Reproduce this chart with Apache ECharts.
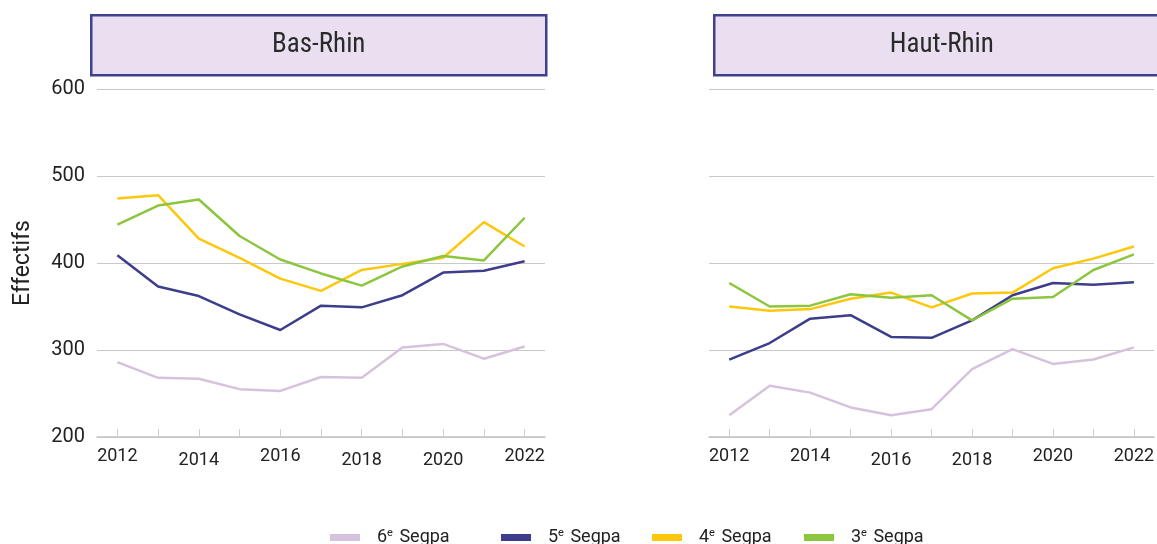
<!DOCTYPE html>
<html>
<head>
<meta charset="utf-8">
<script src="https://cdn.jsdelivr.net/npm/echarts@6/dist/echarts.min.js"></script>
<style>html,body{margin:0;padding:0;background:#fff}#c{width:1157px;height:544px}</style>
</head>
<body>
<div id="c"></div>
<script>
const years = ['2012','2013','2014','2015','2016','2017','2018','2019','2020','2021','2022'];
const seriesNames = ['6e Segpa','5e Segpa','4e Segpa','3e Segpa'];
const panelTitles = ['Bas-Rhin','Haut-Rhin'];
const yTicks = [200, 300, 400, 500, 600];

const basRhin6 = [286,268,267,255,253,269,268,303,307,290,304];
const basRhin5 = [409,373,362,341,323,351,349,363,389,391,402];
const basRhin4 = [474,478,428,406,382,368,392,399,406,447,419];
const basRhin3 = [444,466,473,431,404,388,374,396,408,403,452];

const hautRhin6 = [225,259,251,234,225,232,278,301,284,289,303];
const hautRhin5 = [289,308,336,340,315,314,334,363,377,375,378];
const hautRhin4 = [350,345,347,359,366,349,365,366,394,405,419];
const hautRhin3 = [377,350,351,364,360,363,334,359,361,392,410];

const colors = ['#d5c3de','#3d3d8c','#fdc70c','#8cc63f'];
const FONT = 'Roboto';
const TITLE_FONT = "'Liberation Sans Narrow', 'Roboto Condensed', Roboto";
const panels = [[basRhin6,basRhin5,basRhin4,basRhin3],[hautRhin6,hautRhin5,hautRhin4,hautRhin3]];
const lowLabels = [['2014','2018','2020'],['2016','2018']];

const chart = echarts.init(document.getElementById('c'), null, {renderer:'canvas'});

const grids = [
  {left: 97, width: 448, top: 89, height: 348},
  {left: 709, width: 448, top: 89, height: 348}
];

const xAxes = grids.map((g, i) => ({
  type: 'category', gridIndex: i, data: years, boundaryGap: true,
  axisLine: {show: true, lineStyle: {color: '#c4c4c4', width: 1.5}},
  axisTick: {show: true, inside: true, length: 8, alignWithLabel: true, interval: 0, lineStyle: {color: '#cfcfcf'}},
  axisLabel: {
    interval: 1, margin: 10, color: '#222', fontFamily: FONT, fontSize: 18,
    formatter: v => lowLabels[i].includes(v) ? '{lo|' + v + '}' : '{hi|' + v + '}',
    rich: {
      hi: {fontFamily: FONT, fontSize: 18, color: '#222'},
      lo: {fontFamily: FONT, fontSize: 18, color: '#222', padding: [4,0,0,0]}
    }
  },
  splitLine: {show: false}
}));

const yAxes = grids.map((g, i) => ({
  type: 'value', gridIndex: i, min: yTicks[0], max: yTicks[yTicks.length-1], interval: 100,
  name: i === 0 ? 'Effectifs' : '', nameLocation: 'middle', nameGap: 62, nameRotate: 90,
  nameTextStyle: {fontFamily: FONT, fontSize: 23, color: '#222'},
  axisLine: {show: false}, axisTick: {show: false},
  axisLabel: {show: i === 0, margin: 12, color: '#222', fontFamily: FONT, fontSize: 20},
  splitLine: {show: true, lineStyle: {color: '#c8c8c8', width: 1}}
}));

const series = [];
panels.forEach((p, pi) => {
  p.forEach((vals, si) => {
    series.push({
      type: 'line', name: seriesNames[si], xAxisIndex: pi, yAxisIndex: pi,
      data: vals, showSymbol: false, symbol: 'none',
      lineStyle: {color: colors[si], width: 2.5},
      itemStyle: {color: colors[si]},
      emphasis: {disabled: true}, z: 2 + si
    });
  });
});

const legendLefts = [325, 496, 647, 799];
const legends = seriesNames.map((n, i) => ({
  data: [n], left: legendLefts[i], top: 523, icon: 'rect', itemWidth: 30, itemHeight: 7,
  itemStyle: {color: colors[i]},
  formatter: name => '{n|' + name.slice(0, 1) + '}{s|e}{n|' + name.slice(2) + '}',
  textStyle: {
    fontFamily: FONT, fontSize: 18, color: '#222', padding: [0,0,0,12],
    rich: {
      n: {fontFamily: FONT, fontSize: 18, color: '#222'},
      s: {fontFamily: FONT, fontSize: 11, color: '#222', verticalAlign: 'top', padding: [0,2,8,0]}
    }
  }
}));

const boxes = [
  {x: 90, w: 455, t: panelTitles[0]},
  {x: 713, w: 455, t: panelTitles[1]}
].map(b => ({
  type: 'rect', left: b.x, top: 14,
  shape: {x: 0, y: 0, width: b.w, height: 60},
  style: {fill: '#eadff0', stroke: '#40408e', lineWidth: 2.5},
  textContent: {style: {text: b.t, fontFamily: TITLE_FONT, fontSize: 27, fill: '#2a2a2a'}},
  textConfig: {position: 'inside'}
}));

chart.setOption({
  animation: false,
  grid: grids,
  xAxis: xAxes,
  yAxis: yAxes,
  series: series,
  legend: legends,
  graphic: boxes
});
</script>
</body>
</html>
